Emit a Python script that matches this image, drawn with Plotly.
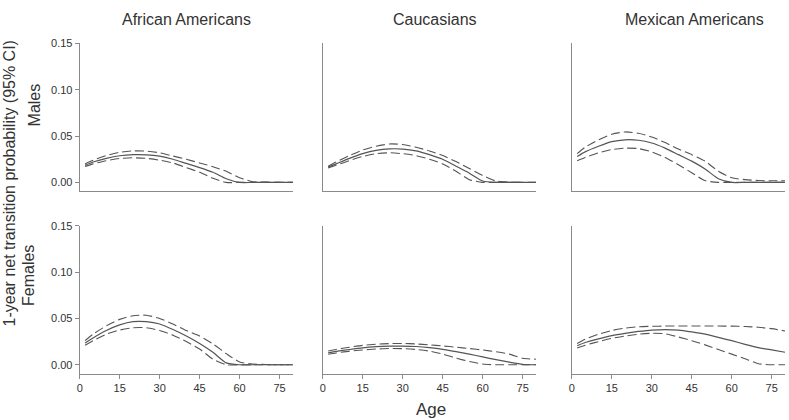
import plotly.graph_objects as go

AGES = [2, 5, 10, 15, 20, 25, 30, 35, 40, 45, 50, 55, 60, 65, 70, 75, 80]

GROUPS = ["African Americans", "Caucasians", "Mexican Americans"]
SEXES = ["Males", "Females"]
Y_TICKS = [0.0, 0.05, 0.10, 0.15]
X_TICKS = [0, 15, 30, 45, 60, 75]

# Males - African Americans
AA_M_EST = [0.0184, 0.022, 0.026, 0.0288, 0.0300, 0.0298, 0.0283, 0.0250, 0.0205, 0.0160, 0.0110, 0.0040, 0, 0, 0, 0, 0]
AA_M_HI = [0.020, 0.024, 0.029, 0.0325, 0.034, 0.0338, 0.032, 0.0285, 0.025, 0.021, 0.017, 0.012, 0.005, 0.0008, 0.0003, 0, 0]
AA_M_LO = [0.0172, 0.020, 0.0235, 0.0258, 0.0266, 0.026, 0.024, 0.021, 0.016, 0.011, 0.0045, 0, 0, 0, 0, 0, 0]
# Males - Caucasians
CA_M_EST = [0.0165, 0.020, 0.026, 0.031, 0.0345, 0.0362, 0.036, 0.034, 0.030, 0.025, 0.0175, 0.010, 0.0015, 0, 0, 0, 0]
CA_M_HI = [0.0175, 0.022, 0.029, 0.035, 0.039, 0.0415, 0.041, 0.038, 0.034, 0.029, 0.0225, 0.015, 0.0075, 0.0015, 0.0004, 0, 0]
CA_M_LO = [0.0155, 0.0185, 0.0235, 0.028, 0.031, 0.032, 0.031, 0.029, 0.025, 0.020, 0.012, 0.003, 0, 0, 0, 0, 0]
# Males - Mexican Americans
MA_M_EST = [0.028, 0.033, 0.039, 0.044, 0.046, 0.0455, 0.0425, 0.037, 0.030, 0.023, 0.0145, 0.004, 0, 0, 0, 0, 0]
MA_M_HI = [0.031, 0.038, 0.046, 0.052, 0.0545, 0.053, 0.049, 0.043, 0.036, 0.030, 0.023, 0.012, 0.005, 0.003, 0.002, 0.0018, 0.0018]
MA_M_LO = [0.0235, 0.027, 0.032, 0.0355, 0.037, 0.0365, 0.033, 0.027, 0.019, 0.0105, 0.002, 0, 0, 0, 0, 0, 0]
# Females - African Americans
AA_F_EST = [0.0235, 0.029, 0.037, 0.043, 0.0465, 0.0465, 0.044, 0.038, 0.031, 0.023, 0.0135, 0.002, 0, 0, 0, 0, 0]
AA_F_HI = [0.026, 0.033, 0.042, 0.049, 0.053, 0.0535, 0.050, 0.044, 0.037, 0.031, 0.0225, 0.012, 0.003, 0.0008, 0.0003, 0, 0]
AA_F_LO = [0.021, 0.026, 0.033, 0.0375, 0.040, 0.040, 0.037, 0.032, 0.025, 0.017, 0.006, 0, 0, 0, 0, 0, 0]
# Females - Caucasians
CA_F_EST = [0.013, 0.0145, 0.0165, 0.0183, 0.0195, 0.0201, 0.0202, 0.0197, 0.0185, 0.0167, 0.0142, 0.0115, 0.0085, 0.0055, 0.0028, 0.0005, 0]
CA_F_HI = [0.0148, 0.0165, 0.019, 0.021, 0.0222, 0.0229, 0.023, 0.0225, 0.0215, 0.0203, 0.019, 0.0175, 0.016, 0.014, 0.0115, 0.007, 0.006]
CA_F_LO = [0.0113, 0.0127, 0.0147, 0.016, 0.017, 0.0175, 0.0174, 0.0165, 0.0148, 0.0115, 0.0072, 0.0035, 0.0008, 0, 0, 0, 0]
# Females - Mexican Americans
MA_F_EST = [0.0205, 0.024, 0.028, 0.0315, 0.034, 0.036, 0.0375, 0.038, 0.0375, 0.0355, 0.033, 0.0295, 0.026, 0.022, 0.0185, 0.016, 0.0135]
MA_F_HI = [0.023, 0.0275, 0.033, 0.037, 0.0395, 0.041, 0.0415, 0.0418, 0.0418, 0.0418, 0.0418, 0.0418, 0.0417, 0.0413, 0.0405, 0.039, 0.0365]
MA_F_LO = [0.018, 0.021, 0.025, 0.0285, 0.031, 0.033, 0.034, 0.0335, 0.030, 0.026, 0.0215, 0.0165, 0.0115, 0.0065, 0.0012, 0, 0]

PANELS = [
    [(AA_M_EST, AA_M_LO, AA_M_HI), (CA_M_EST, CA_M_LO, CA_M_HI), (MA_M_EST, MA_M_LO, MA_M_HI)],
    [(AA_F_EST, AA_F_LO, AA_F_HI), (CA_F_EST, CA_F_LO, CA_F_HI), (MA_F_EST, MA_F_LO, MA_F_HI)],
]

W, H = 789, 420
X_DOM_PX = [(77, 291), (321, 535), (571, 785)]
Y_DOM_PX = [(38, 188), (223, 373)]

LINE_COL = "#555555"
AXIS_COL = "#8a8a8a"
TEXT_COL = "#333333"
TICK_FONT = dict(family="Liberation Sans, Arial, sans-serif", size=11, color=TEXT_COL)
LABEL_FONT = "Liberation Sans, Arial, sans-serif"

fig = go.Figure()
layout = {}
for r in range(2):
    for c in range(3):
        idx = r * 3 + c + 1
        xa = "x" if idx == 1 else f"x{idx}"
        ya = "y" if idx == 1 else f"y{idx}"
        est, lo, hi = PANELS[r][c]
        for series, dash, lw in ((hi, "9px,4px", 1.1), (lo, "9px,4px", 1.1), (est, "solid", 1.2)):
            fig.add_trace(go.Scatter(
                x=AGES, y=series, mode="lines", xaxis=xa, yaxis=ya,
                line=dict(color=LINE_COL, width=lw, dash=dash, shape="spline", smoothing=0.6),
                showlegend=False, hoverinfo="skip"))
        x0, x1 = X_DOM_PX[c]
        y0, y1 = Y_DOM_PX[r]
        xkey = "xaxis" if idx == 1 else f"xaxis{idx}"
        ykey = "yaxis" if idx == 1 else f"yaxis{idx}"
        layout[xkey] = dict(
            domain=[x0 / W, x1 / W], anchor=ya, range=[0, 80],
            showline=True, linecolor=AXIS_COL, linewidth=1, showgrid=False, zeroline=False,
            tickvals=X_TICKS if r == 1 else [],
            ticktext=[str(v) for v in X_TICKS] if r == 1 else [],
            ticks="outside" if r == 1 else "", ticklen=4, tickcolor=AXIS_COL,
            tickfont=TICK_FONT, showticklabels=(r == 1), fixedrange=True)
        layout[ykey] = dict(
            domain=[1 - y1 / H, 1 - y0 / H], anchor=xa, range=[-0.0096, 0.15],
            showline=True, linecolor=AXIS_COL, linewidth=1, showgrid=False, zeroline=False,
            tickvals=Y_TICKS if c == 0 else [],
            ticktext=[f"{v:.2f}" for v in Y_TICKS] if c == 0 else [],
            ticks="outside" if c == 0 else "", ticklen=4, tickcolor=AXIS_COL,
            tickfont=TICK_FONT, showticklabels=(c == 0), fixedrange=True)

annotations = []
title_x = [184, 434, 694]
for c, g in enumerate(GROUPS):
    annotations.append(dict(text=g, x=title_x[c] / W, y=1 - 14 / H, xref="paper", yref="paper",
                            showarrow=False, xanchor="center", yanchor="middle",
                            font=dict(family=LABEL_FONT, size=16, color=TEXT_COL)))
row_pos = [(32, 100), (25, 273)]
for r, s in enumerate(SEXES):
    px, py = row_pos[r]
    annotations.append(dict(text=s, x=px / W, y=1 - py / H, xref="paper", yref="paper",
                            showarrow=False, xanchor="center", yanchor="middle", textangle=-90,
                            font=dict(family=LABEL_FONT, size=16, color=TEXT_COL)))
annotations.append(dict(text="1-year net transition probability (95% CI)", x=6 / W, y=1 - 180 / H,
                        xref="paper", yref="paper", showarrow=False, xanchor="center", yanchor="middle",
                        textangle=-90, font=dict(family=LABEL_FONT, size=16, color=TEXT_COL)))
annotations.append(dict(text="Age", x=430 / W, y=1 - 409 / H, xref="paper", yref="paper",
                        showarrow=False, xanchor="center", yanchor="middle",
                        font=dict(family=LABEL_FONT, size=17, color=TEXT_COL)))

fig.update_layout(
    width=W, height=H, autosize=False,
    margin=dict(l=0, r=0, t=0, b=0),
    paper_bgcolor="white", plot_bgcolor="white",
    annotations=annotations, **layout)

fig.write_html("out.html", config={"displayModeBar": False})
